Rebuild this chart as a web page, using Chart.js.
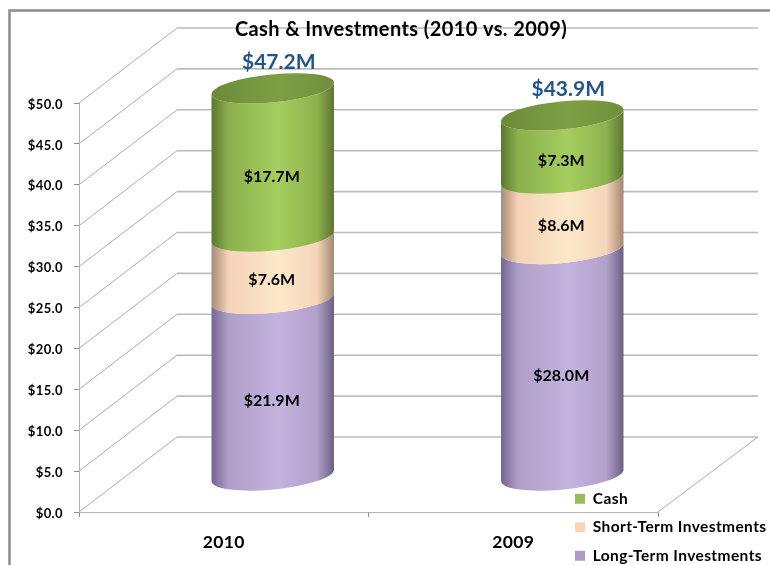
<!DOCTYPE html>
<html>
<head>
<meta charset="utf-8">
<style>html,body{margin:0;padding:0;background:#fff}canvas{display:block}</style>
<script src="https://cdn.jsdelivr.net/npm/chart.js@4"></script>
</head>
<body>
<canvas id="c" width="770" height="565"></canvas>
<script>
const categories = ['2010', '2009'];
const longTerm = [21.9, 28.0];
const shortTerm = [7.6, 8.6];
const cash = [17.7, 7.3];
const totals = [47.2, 43.9];
const titleText = 'Cash & Investments (2010 vs. 2009)';

const FONT = 'Lato';
const WALL_DX = 98, WALL_DY = 75, WALL_RIGHT = 758;
const CYL_DX = WALL_DX / 2, CYL_DY = WALL_DY / 2;
const TILT = -0.098, RY = 14, SEAM_DROP = 3.5;
const SHADES = {
  'Cash': ['#5a7530', '#8bb04d', '#a6cd5e', '#8db24e', '#5a7530'],
  'Short-Term Investments': ['#a58a74', '#f5d3b7', '#fde8c9', '#f6d5b9', '#a0876f'],
  'Long-Term Investments': ['#736590', '#ae9ec8', '#c4b3de', '#b0a0ca', '#6b5e82']
};
const STOPS = [0, 0.14, 0.55, 0.86, 1];

function lineStyle(ctx, color, w) { ctx.strokeStyle = color; ctx.lineWidth = w; }

const cylinders = {
  id: 'cylinders',
  beforeLayout(chart) {
    if (chart.legend) Chart.layouts.removeBox(chart, chart.legend);
  },
  afterLayout(chart) {
    const t = chart.titleBlock;
    t.left += 72; t.right += 72;
    const lg = chart.legend;
    lg.update(230, 110, {left: 0, top: 0, right: 0, bottom: 0});
    const w = lg.width, h = lg.height;
    lg.left = 562; lg.right = 562 + w; lg.top = 478; lg.bottom = 478 + h;
  },
  beforeDraw(chart) {
    const ctx = chart.ctx, y = chart.scales.y, x = chart.scales.x;
    ctx.letterSpacing = '0.4px';
    ctx.save();
    ctx.fillStyle = '#fff';
    ctx.fillRect(0, 0, chart.width, chart.height);
    // frame
    lineStyle(ctx, '#8c8c8c', 2.5);
    ctx.beginPath();
    ctx.moveTo(9.5, 565); ctx.lineTo(9.5, 10.5); ctx.lineTo(770, 10.5);
    ctx.stroke();
    // 3-D walls and gridlines
    y.ticks.forEach(t => {
      const py = y.getPixelForValue(t.value);
      lineStyle(ctx, '#ababab', 1);
      ctx.beginPath();
      ctx.moveTo(x.left, py); ctx.lineTo(x.left + WALL_DX, py - WALL_DY);
      ctx.stroke();
      lineStyle(ctx, '#bcbcbc', 1.6);
      ctx.beginPath();
      ctx.moveTo(x.left + WALL_DX, py - WALL_DY); ctx.lineTo(WALL_RIGHT, py - WALL_DY);
      ctx.stroke();
    });
    const p0 = y.getPixelForValue(0);
    lineStyle(ctx, '#ababab', 1);
    ctx.beginPath();
    ctx.moveTo(x.right, p0); ctx.lineTo(WALL_RIGHT, p0 - WALL_DY);
    ctx.stroke();
    ctx.restore();
  },
  beforeDatasetsDraw(chart) {
    const ctx = chart.ctx;
    const metas = chart.getSortedVisibleDatasetMetas();
    categories.forEach((_, i) => {
      let topCx = 0, topCy = 0, rx = 0;
      metas.forEach((m, k) => {
        const bar = m.data[i];
        rx = bar.width / 2;
        const cx = bar.x + CYL_DX;
        const isTop = k === metas.length - 1;
        const botY = bar.base - CYL_DY + (k === 0 ? 1.5 : SEAM_DROP);
        const topY = bar.y - CYL_DY + (isTop ? 0 : SEAM_DROP);
        const sx = rx * Math.cos(TILT), sy = rx * Math.sin(TILT);
        const s = SHADES[m.label];
        const g = ctx.createLinearGradient(cx - rx, 0, cx + rx, 0);
        STOPS.forEach((p, j) => g.addColorStop(p, s[j]));
        ctx.beginPath();
        ctx.moveTo(cx - sx, topY - sy);
        ctx.lineTo(cx - sx, botY - sy);
        ctx.ellipse(cx, botY, rx, RY, TILT, Math.PI, 0, true);
        ctx.lineTo(cx + sx, topY + sy);
        ctx.ellipse(cx, topY, rx, RY, TILT, 0, Math.PI, false);
        ctx.closePath();
        ctx.fillStyle = g;
        ctx.fill();
        if (isTop) { topCx = cx; topCy = topY; }
      });
      // top cap
      const capG = ctx.createLinearGradient(topCx - rx, 0, topCx + rx, 0);
      capG.addColorStop(0, '#6a8a38');
      capG.addColorStop(0.55, '#7f9f45');
      capG.addColorStop(1, '#6f8f3b');
      ctx.beginPath();
      ctx.ellipse(topCx, topCy, rx, RY, TILT, 0, Math.PI * 2);
      ctx.fillStyle = capG;
      ctx.fill();
      // labels
      ctx.save();
      ctx.letterSpacing = '0px';
      ctx.textAlign = 'center';
      ctx.textBaseline = 'middle';
      ctx.fillStyle = '#000';
      ctx.font = 'bold 16px ' + FONT;
      metas.forEach(m => {
        const bar = m.data[i];
        const v = m._dataset.data[i];
        const midY = (bar.y + bar.base) / 2 - CYL_DY + 16;
        ctx.fillText('$' + v.toFixed(1) + 'M', bar.x + CYL_DX - 1, midY);
      });
      ctx.fillStyle = '#24548c';
      ctx.font = 'bold 21px ' + FONT;
      ctx.fillText('$' + totals[i].toFixed(1) + 'M', topCx + 6, topCy - 26);
      ctx.restore();
    });
    return false;
  },
  afterDraw(chart) {
    chart.legend.draw();
  }
};

new Chart(document.getElementById('c'), {
  type: 'bar',
  plugins: [cylinders],
  data: {
    labels: categories,
    datasets: [
      {label: 'Long-Term Investments', data: longTerm, backgroundColor: '#ac9cc6'},
      {label: 'Short-Term Investments', data: shortTerm, backgroundColor: '#fcd5b5'},
      {label: 'Cash', data: cash, backgroundColor: '#9bbb59'}
    ]
  },
  options: {
    responsive: false,
    animation: false,
    events: [],
    layout: {padding: {left: 0, right: 112, top: 0, bottom: 0}},
    datasets: {bar: {categoryPercentage: 1, barPercentage: 0.425}},
    plugins: {
      tooltip: {enabled: false},
      title: {
        display: true,
        text: titleText,
        color: '#000',
        font: {family: FONT, size: 20, weight: 'bold', lineHeight: 1.2},
        padding: {top: 18, bottom: 61}
      },
      legend: {
        display: true,
        reverse: true,
        position: 'right',
        align: 'start',
        labels: {
          boxWidth: 10,
          boxHeight: 10,
          padding: 13,
          color: '#000',
          font: {family: FONT, size: 15.5, weight: 'bold'}
        }
      }
    },
    scales: {
      x: {
        stacked: true,
        afterFit(s) { s.height = 53; },
        border: {color: '#b4b4b4', width: 1},
        grid: {drawOnChartArea: false, drawTicks: true, tickLength: 5, color: '#8c8c8c'},
        ticks: {padding: 15, color: '#000', maxRotation: 0, font: {family: FONT, size: 17.5, weight: 'bold'}}
      },
      y: {
        stacked: true,
        min: 0,
        max: 50,
        afterFit(s) { s.width = 79; },
        border: {color: '#b4b4b4', width: 1},
        grid: {drawOnChartArea: false, drawTicks: true, tickLength: 5, color: '#8c8c8c'},
        ticks: {
          stepSize: 5,
          padding: 11,
          labelOffset: 1.5,
          color: '#000',
          font: {family: FONT, size: 13, weight: 'bold'},
          callback: v => '$' + v.toFixed(1)
        }
      }
    }
  }
});
</script>
</body>
</html>
